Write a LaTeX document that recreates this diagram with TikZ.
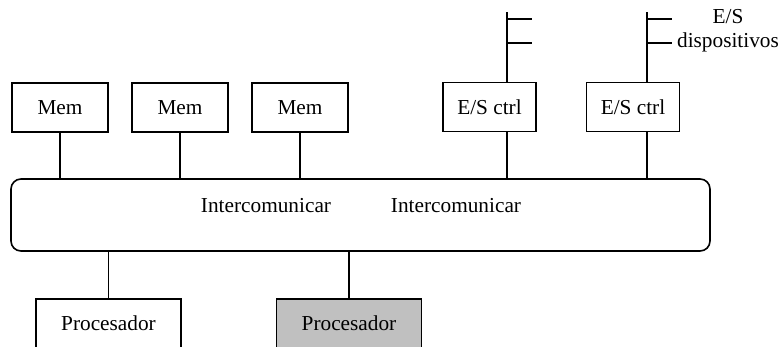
\documentclass[tikz,border=0pt]{standalone}
\usepackage{fontspec}
\setmainfont{Liberation Serif}
\usetikzlibrary{calc}
\begin{document}
\begin{tikzpicture}[x=1pt,y=-1pt,
  every node/.style={font=\fontsize{21.3}{24}\selectfont, inner sep=0pt},
  box/.style={draw, line width=1.6pt, minimum height=49, anchor=center},
  membox/.style={box, minimum width=96},
  iobox/.style={box, minimum width=93},
  cpubox/.style={box, minimum width=145},
  wire/.style={line width=1.6pt}]
  \clip (0,0) rectangle (782,346);

  % memory modules
  \node[membox] (m1) at (60,107.5) {Mem};
  \node[membox] (m2) at (180,107.5) {Mem};
  \node[membox] (m3) at (300,107.5) {Mem};

  % I/O controllers
  \node[iobox] (io1) at (489.5,107) {E/S ctrl};
  \node[iobox] (io2) at (633,107) {E/S ctrl};

  % interconnect
  \node[draw, line width=1.6pt, rounded corners=10, minimum width=699,
        minimum height=72] (bus) at (360.5,215) {};
  \node (lab1) at (266,206) {Intercomunicar};
  \node (lab2) at (456,206) {Intercomunicar};

  % processors
  \node[cpubox] (p1) at (108.5,323.5) {Procesador};
  \node[cpubox, fill={rgb,255:red,192;green,192;blue,192}] (p2) at (349,323.5) {Procesador};

  % memory links
  \foreach \m in {m1,m2,m3}
    \draw[wire] (\m.south) -- (\m.south |- bus.north);

  % I/O device buses
  \coordinate (d1) at (507,12);
  \coordinate (d2) at (647,12);
  \foreach \d/\c in {d1/io1,d2/io2} {
    \draw[wire] (\d) -- (\d |- \c.north);
    \draw[wire] (\d |- \c.south) -- (\d |- bus.north);
    \draw[wire] ($(\d)+(0,7)$) -- ++(24.5,0);
    \draw[wire] ($(\d)+(0,31)$) -- ++(24.5,0);
  }
  \node[align=center] (devs) at (728,31) {E/S\\dispositivos};

  % processor links
  \draw[wire] (p1.north) -- (p1.north |- bus.south);
  \draw[wire] (p2.north) -- (p2.north |- bus.south);
\end{tikzpicture}
\end{document}
